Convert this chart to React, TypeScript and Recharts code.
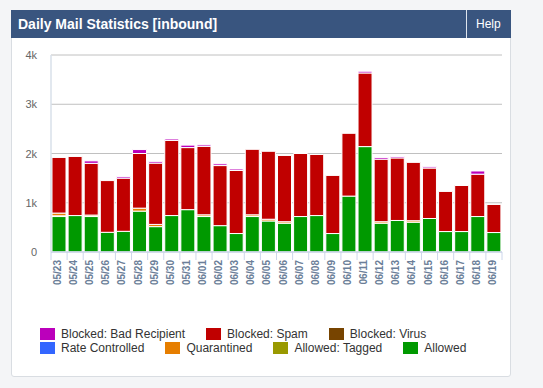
import React from "react"
import { BarChart, Bar, XAxis, YAxis, CartesianGrid } from "recharts"

const dates = [
  "05/23", "05/24", "05/25", "05/26", "05/27", "05/28", "05/29", "05/30", "05/31",
  "06/01", "06/02", "06/03", "06/04", "06/05", "06/06", "06/07", "06/08", "06/09",
  "06/10", "06/11", "06/12", "06/13", "06/14", "06/15", "06/16", "06/17", "06/18", "06/19",
]

const allowed = [720, 740, 720, 400, 420, 830, 515, 740, 860, 720, 535, 375, 720, 630, 585, 720, 740, 375, 1135, 2140, 585, 640, 605, 680, 415, 415, 720, 395]
const allowedTagged = [15, 0, 0, 0, 0, 0, 0, 0, 0, 0, 0, 0, 0, 0, 0, 0, 0, 0, 0, 0, 0, 0, 0, 0, 0, 0, 0, 0]
const quarantined = [55, 0, 30, 0, 0, 60, 45, 0, 0, 35, 0, 0, 35, 35, 30, 0, 0, 0, 0, 0, 30, 0, 30, 0, 0, 0, 0, 0]
const rateControlled = [0, 0, 0, 0, 0, 0, 0, 0, 0, 0, 0, 0, 0, 0, 0, 0, 0, 0, 0, 0, 0, 0, 0, 0, 0, 0, 0, 0]
const blockedVirus = [0, 0, 0, 0, 0, 0, 0, 0, 0, 0, 0, 0, 0, 0, 0, 0, 0, 0, 0, 0, 0, 0, 0, 0, 0, 0, 0, 0]
const blockedSpam = [1130, 1200, 1050, 1050, 1080, 1110, 1245, 1525, 1260, 1390, 1220, 1280, 1330, 1380, 1345, 1280, 1240, 1180, 1275, 1495, 1270, 1270, 1185, 1025, 815, 935, 860, 570]
const badRecipient = [0, 0, 50, 0, 30, 80, 35, 30, 50, 30, 35, 30, 0, 0, 0, 0, 0, 0, 0, 35, 35, 30, 0, 25, 0, 0, 65, 0]

const yTicks = [0, 1000, 2000, 3000, 4000]

// stack order, bottom to top
const series = [
  { key: "allowed", name: "Allowed", color: "#009900", values: allowed },
  { key: "tagged", name: "Allowed: Tagged", color: "#999900", values: allowedTagged },
  { key: "quarantined", name: "Quarantined", color: "#e67e00", values: quarantined },
  { key: "rate", name: "Rate Controlled", color: "#3366ff", values: rateControlled },
  { key: "virus", name: "Blocked: Virus", color: "#774400", values: blockedVirus },
  { key: "spam", name: "Blocked: Spam", color: "#c00000", values: blockedSpam },
  { key: "bad", name: "Blocked: Bad Recipient", color: "#bb00bb", values: badRecipient },
]

const legendRows = [
  ["bad", "spam", "virus"],
  ["rate", "quarantined", "tagged", "allowed"],
]

const data = dates.map((d, i) => {
  const row: any = { date: d }
  series.forEach((s) => (row[s.key] = s.values[i]))
  return row
})

const W = 543
const H = 300
const M = { top: 55, right: 41, left: 11, bottom: 8 }
const Y_W = 40
const BAND = (W - M.left - Y_W - M.right) / dates.length
const FONT = "'Liberation Sans', Arial, sans-serif"

const XTick = ({ x, y, payload, index }: any) => {
  const half = BAND / 2
  return (
    <g>
      <line x1={x - half} x2={x - half} y1={y} y2={y + 8} stroke="#ccd6eb" />
      {index === dates.length - 1 && (
        <line x1={x + half} x2={x + half} y1={y} y2={y + 8} stroke="#ccd6eb" />
      )}
      <text
        x={0}
        y={0}
        transform={`translate(${x + 2},${y + 8}) rotate(-90)`}
        textAnchor="end"
        fontSize={10}
        fontWeight="bold"
        fontFamily={FONT}
        fill="#6b7e98"
      >
        {payload.value}
      </text>
    </g>
  )
}

const YTick = ({ x, y, payload }: any) => (
  <text x={x} y={y} dy={4} textAnchor="end" fontSize={11} fontFamily={FONT} fill="#666666">
    {payload.value === 0 ? "0" : `${payload.value / 1000}k`}
  </text>
)

export default function App() {
  return (
    <div
      style={{
        position: "fixed",
        left: 0,
        top: 0,
        width: W,
        height: 388,
        background: "#f4f5f7",
        fontFamily: FONT,
      }}
    >
      <div
        style={{
          position: "absolute",
          left: 11,
          top: 10,
          width: 500,
          height: 367,
          boxSizing: "border-box",
          background: "#fff",
          border: "1px solid #d9dde2",
          borderRadius: 3,
        }}
      />
      <div
        style={{
          position: "absolute",
          left: 11,
          top: 10,
          width: 500,
          height: 28,
          background: "#39557f",
          color: "#fff",
        }}
      >
        <div style={{ position: "absolute", left: 7, top: 6, fontSize: 14, fontWeight: "bold" }}>
          Daily Mail Statistics [inbound]
        </div>
        <div style={{ position: "absolute", left: 455, top: 0, width: 1, height: 28, background: "#dfe5ee" }} />
        <div style={{ position: "absolute", left: 465, top: 7, fontSize: 12 }}>Help</div>
      </div>

      <div style={{ position: "absolute", left: 0, top: 0 }}>
        <BarChart width={W} height={H} data={data} margin={M} barCategoryGap={1}>
          <CartesianGrid vertical={false} stroke="#c0c0c0" />
          <XAxis
            dataKey="date"
            interval={0}
            height={40}
            tickSize={0}
            tickMargin={0}
            tickLine={false}
            axisLine={{ stroke: "#ccd6eb", strokeWidth: 1.5 }}
            tick={<XTick />}
          />
          <YAxis
            width={Y_W}
            domain={[0, 4000]}
            ticks={yTicks}
            tickSize={0}
            tickMargin={14}
            tickLine={false}
            axisLine={{ stroke: "#d8e0ea", strokeWidth: 1.5 }}
            tick={<YTick />}
          />
          {series.map((s) => (
            <Bar
              key={s.key}
              dataKey={s.key}
              name={s.name}
              stackId="mail"
              fill={s.color}
              stroke="#ffffff"
              strokeWidth={1}
              isAnimationActive={false}
            />
          ))}
        </BarChart>
      </div>

      <div style={{ position: "absolute", left: 40, top: 327, fontSize: 12, color: "#333" }}>
        {legendRows.map((row, ri) => (
          <div key={ri} style={{ display: "flex", height: 14, alignItems: "center", gap: 21 }}>
            {row.map((k) => {
              const s = series.find((x) => x.key === k)!
              return (
                <div key={k} style={{ display: "flex", alignItems: "center" }}>
                  <span style={{ width: 15, height: 12, background: s.color, marginRight: 6 }} />
                  <span style={{ lineHeight: "14px" }}>{s.name}</span>
                </div>
              )
            })}
          </div>
        ))}
      </div>
    </div>
  )
}
